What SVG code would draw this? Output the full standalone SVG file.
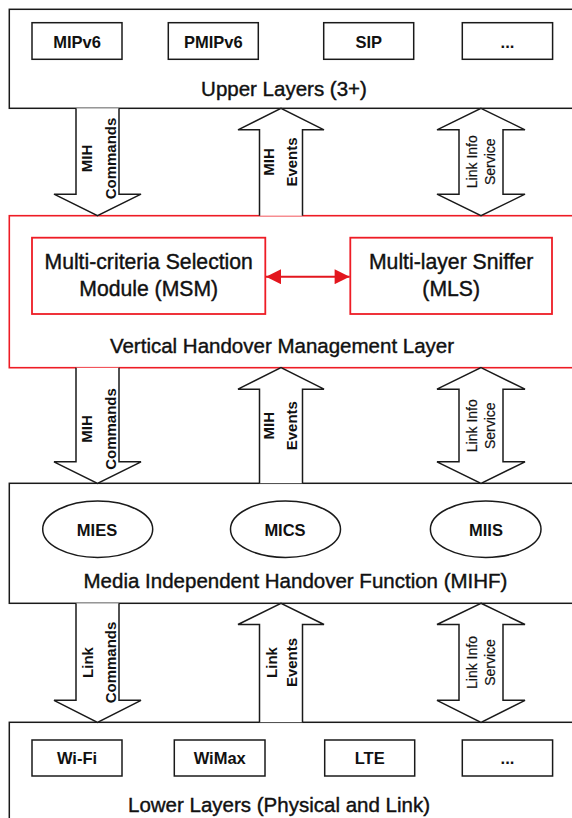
<svg xmlns="http://www.w3.org/2000/svg" width="572" height="818" viewBox="0 0 572 818">
  <style>
    .layer { fill: #ffffff; stroke: #1a1a1a; stroke-width: 1.5; }
    .vhm { fill: #ffffff; stroke: #ee1c25; stroke-width: 1.6; }
    .mod { fill: #ffffff; stroke: #ee1c25; stroke-width: 1.8; }
    .box { fill: #ffffff; stroke: #1a1a1a; stroke-width: 1.5; }
    .flow { fill: #ffffff; stroke: #1a1a1a; stroke-width: 1.5; stroke-linejoin: miter; }
    .link { stroke: #e3161e; stroke-width: 2; fill: none; }
    text { font-family: "Liberation Sans", Arial, sans-serif; fill: #111111; }
    .big { font-size: 20.5px; text-anchor: middle; stroke: #111111; stroke-width: 0.4; }
    .modtxt { font-size: 21.2px; text-anchor: middle; stroke: #111111; stroke-width: 0.4; }
    .small { font-size: 16.5px; font-weight: bold; text-anchor: middle; }
    .lbl { font-size: 15px; font-weight: bold; text-anchor: middle; }
    .lbl2 { font-size: 14px; text-anchor: middle; stroke: #111111; stroke-width: 0.2; }
  </style>
  <defs>
    <marker id="redHead" viewBox="0 0 10 10" refX="10" refY="5" markerWidth="8.5" markerHeight="7.5" markerUnits="strokeWidth" orient="auto-start-reverse">
      <path d="M0,0 L10,5 L0,10 z" fill="#e3161e"/>
    </marker>
  </defs>

  <rect width="572" height="818" fill="#ffffff"/>

  <!-- Upper layers -->
  <g id="upper-layers">
    <rect class="layer" x="9.3" y="9.3" width="600" height="99"/>
    <text class="big" x="284" y="95.5">Upper Layers (3+)</text>
  </g>
  <g id="mipv6">
    <rect class="box" x="32" y="22.7" width="90" height="36.6"/>
    <text class="small" x="77" y="47.5">MIPv6</text>
  </g>
  <g id="pmipv6">
    <rect class="box" x="168.3" y="22.7" width="90" height="36.6"/>
    <text class="small" x="213.3" y="47.5">PMIPv6</text>
  </g>
  <g id="sip">
    <rect class="box" x="323.7" y="22.7" width="90" height="36.6"/>
    <text class="small" x="368.7" y="47.5">SIP</text>
  </g>
  <g id="upper-more">
    <rect class="box" x="462.3" y="22.7" width="90.3" height="36.6"/>
    <text class="small" x="507.5" y="47.5">...</text>
  </g>

  <!-- Vertical handover management layer -->
  <g id="vhm-layer">
    <rect class="vhm" x="9.3" y="215.7" width="600" height="152"/>
    <text class="big" x="282" y="353.3">Vertical Handover Management Layer</text>
  </g>
  <g id="msm">
    <rect class="mod" x="32" y="237.7" width="233.3" height="76.3"/>
    <text class="modtxt" x="148.7" y="269.3">Multi-criteria Selection</text>
    <text class="modtxt" x="148.7" y="295.5">Module (MSM)</text>
  </g>
  <g id="mls">
    <rect class="mod" x="350.3" y="237.7" width="201.7" height="76.3"/>
    <text class="modtxt" x="451.2" y="269.3">Multi-layer Sniffer</text>
    <text class="modtxt" x="451.2" y="295.5">(MLS)</text>
  </g>

  <!-- Media independent handover function -->
  <g id="mihf">
    <rect class="layer" x="9.3" y="483.3" width="600" height="120"/>
    <text class="big" x="295.5" y="587.7">Media Independent Handover Function (MIHF)</text>
  </g>
  <g id="mies">
    <ellipse class="box" cx="97.7" cy="529.2" rx="55" ry="28.2"/>
    <text class="small" x="97" y="535.7">MIES</text>
  </g>
  <g id="mics">
    <ellipse class="box" cx="285.5" cy="529.2" rx="55" ry="28.2"/>
    <text class="small" x="285" y="535.7">MICS</text>
  </g>
  <g id="miis">
    <ellipse class="box" cx="485.7" cy="529.2" rx="55.3" ry="28.2"/>
    <text class="small" x="486" y="535.7">MIIS</text>
  </g>

  <!-- Lower layers -->
  <g id="lower-layers">
    <rect class="layer" x="9.3" y="722.3" width="600" height="120"/>
    <text class="big" x="279" y="811.7">Lower Layers (Physical and Link)</text>
  </g>
  <g id="wifi">
    <rect class="box" x="32" y="740" width="90" height="36"/>
    <text class="small" x="77" y="764">Wi-Fi</text>
  </g>
  <g id="wimax">
    <rect class="box" x="174.3" y="740" width="90.7" height="36"/>
    <text class="small" x="219.7" y="764">WiMax</text>
  </g>
  <g id="lte">
    <rect class="box" x="324.7" y="740" width="90" height="36"/>
    <text class="small" x="369.7" y="764">LTE</text>
  </g>
  <g id="lower-more">
    <rect class="box" x="462.3" y="740" width="90.3" height="36"/>
    <text class="small" x="507.5" y="764">...</text>
  </g>

  <!-- Connectors: block arrows between layers and the MSM/MLS link -->
  <g id="connectors">
    <!-- Upper layers <-> VHM layer (y 108.3 .. 215.7) -->
    <path class="flow" d="M76,108.3 L76,194.2 L54,194.2 L97.5,215.7 L141,194.2 L119,194.2 L119,108.3"/>
    <path class="flow" d="M259.5,215.7 L259.5,129.8 L238,129.8 L281,108.3 L324,129.8 L302.5,129.8 L302.5,215.7"/>
    <path class="flow" d="M481,108.3 L525,129.8 L503,129.8 L503,194.2 L525,194.2 L481,215.7 L437,194.2 L459,194.2 L459,129.8 L437,129.8 Z"/>

    <!-- VHM layer <-> MIHF (y 367.7 .. 483.3) -->
    <path class="flow" d="M76,367.7 L76,461.8 L54,461.8 L97.5,483.3 L141,461.8 L119,461.8 L119,367.7"/>
    <path class="flow" d="M259.5,483.3 L259.5,389.2 L238,389.2 L281,367.7 L324,389.2 L302.5,389.2 L302.5,483.3"/>
    <path class="flow" d="M481,367.7 L525,389.2 L503,389.2 L503,461.8 L525,461.8 L481,483.3 L437,461.8 L459,461.8 L459,389.2 L437,389.2 Z"/>

    <!-- MIHF <-> lower layers (y 603.3 .. 722.3) -->
    <path class="flow" d="M76,603.3 L76,700.3 L54,700.3 L97.5,722.3 L141,700.3 L119,700.3 L119,603.3"/>
    <path class="flow" d="M259.5,722.3 L259.5,624.5 L238,624.5 L281,603.3 L324,624.5 L302.5,624.5 L302.5,722.3"/>
    <path class="flow" d="M481,603.3 L525,624.5 L503,624.5 L503,700.3 L525,700.3 L481,722.3 L437,700.3 L459,700.3 L459,624.5 L437,624.5 Z"/>

    <!-- MSM <-> MLS -->
    <line class="link" x1="266" y1="276.7" x2="349.6" y2="276.7" marker-start="url(#redHead)" marker-end="url(#redHead)"/>

    <!-- arrow labels, level 1 -->
    <text class="lbl" transform="translate(91.7,158.5) rotate(-90)">MIH</text>
    <text class="lbl" transform="translate(115.8,158.5) rotate(-90)">Commands</text>
    <text class="lbl" transform="translate(274,162) rotate(-90)">MIH</text>
    <text class="lbl" transform="translate(297,162) rotate(-90)">Events</text>
    <text class="lbl2" transform="translate(477,161.7) rotate(-90)">Link Info</text>
    <text class="lbl2" transform="translate(495.3,161.7) rotate(-90)">Service</text>

    <!-- arrow labels, level 2 -->
    <text class="lbl" transform="translate(91.7,429) rotate(-90)">MIH</text>
    <text class="lbl" transform="translate(115.8,429) rotate(-90)">Commands</text>
    <text class="lbl" transform="translate(274,425.7) rotate(-90)">MIH</text>
    <text class="lbl" transform="translate(297,425.7) rotate(-90)">Events</text>
    <text class="lbl2" transform="translate(477,425.7) rotate(-90)">Link Info</text>
    <text class="lbl2" transform="translate(495.3,425.7) rotate(-90)">Service</text>

    <!-- arrow labels, level 3 -->
    <text class="lbl" transform="translate(93,662.5) rotate(-90)">Link</text>
    <text class="lbl" transform="translate(116.3,662.5) rotate(-90)">Commands</text>
    <text class="lbl" transform="translate(276.5,662.5) rotate(-90)">Link</text>
    <text class="lbl" transform="translate(297,662.5) rotate(-90)">Events</text>
    <text class="lbl2" transform="translate(477,662.5) rotate(-90)">Link Info</text>
    <text class="lbl2" transform="translate(495.3,662.5) rotate(-90)">Service</text>
  </g>
</svg>
